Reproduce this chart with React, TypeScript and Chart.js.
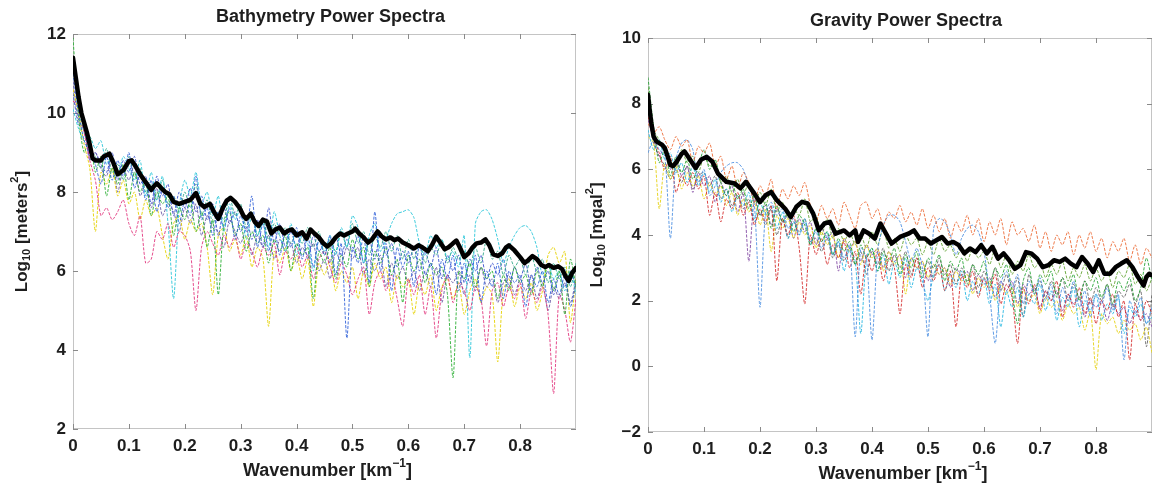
import React, { useEffect, useRef } from "react";
import { Chart, registerables } from "chart.js";

Chart.register(...registerables);

// ---------- shared wavenumber grid for individual spectra (km^-1) ----------
const waveX = [
  0, 0.01, 0.02, 0.03, 0.04, 0.05, 0.06, 0.07, 0.08, 0.09,
  0.1, 0.11, 0.12, 0.13, 0.14, 0.15, 0.16, 0.17, 0.18, 0.19,
  0.2, 0.21, 0.22, 0.23, 0.24, 0.25, 0.26, 0.27, 0.28, 0.29,
  0.3, 0.31, 0.32, 0.33, 0.34, 0.35, 0.36, 0.37, 0.38, 0.39,
  0.4, 0.41, 0.42, 0.43, 0.44, 0.45, 0.46, 0.47, 0.48, 0.49,
  0.5, 0.51, 0.52, 0.53, 0.54, 0.55, 0.56, 0.57, 0.58, 0.59,
  0.6, 0.61, 0.62, 0.63, 0.64, 0.65, 0.66, 0.67, 0.68, 0.69,
  0.7, 0.71, 0.72, 0.73, 0.74, 0.75, 0.76, 0.77, 0.78, 0.79,
  0.8, 0.81, 0.82, 0.83, 0.84, 0.85, 0.86, 0.87, 0.88, 0.89,
  0.9,
];

const xTicks = [0, 0.1, 0.2, 0.3, 0.4, 0.5, 0.6, 0.7, 0.8];
const bathyYTicks = [2, 4, 6, 8, 10, 12];
const gravYTicks = [-2, 0, 2, 4, 6, 8, 10];

// ---------- Bathymetry: mean spectrum (thick black) ----------
const bathyMeanX = [
  0, 0.005, 0.01, 0.015, 0.02, 0.025, 0.03, 0.035, 0.04, 0.05, 0.055, 0.065, 0.072, 0.08, 0.09,
  0.1, 0.105, 0.112, 0.12, 0.13, 0.14, 0.145, 0.15, 0.158, 0.165, 0.172, 0.18, 0.19, 0.2,
  0.21, 0.22, 0.228, 0.235, 0.245, 0.252, 0.26, 0.268, 0.275, 0.282, 0.29, 0.298, 0.305,
  0.31, 0.318, 0.325, 0.332, 0.34, 0.347, 0.355, 0.362, 0.37, 0.378, 0.385, 0.392, 0.4,
  0.41, 0.418, 0.425, 0.432, 0.44, 0.448, 0.455, 0.462, 0.47, 0.478, 0.485, 0.492, 0.5,
  0.505, 0.512, 0.52, 0.528, 0.535, 0.545, 0.552, 0.56, 0.568, 0.575, 0.582, 0.59, 0.6,
  0.61, 0.618, 0.625, 0.635, 0.642, 0.65, 0.658, 0.665, 0.672, 0.68, 0.686, 0.692, 0.7,
  0.708, 0.715, 0.722, 0.73, 0.738, 0.745, 0.752, 0.76, 0.768, 0.775, 0.78, 0.79, 0.8,
  0.808, 0.815, 0.822, 0.83, 0.838, 0.845, 0.852, 0.86, 0.868, 0.875, 0.882, 0.887, 0.893, 0.9,
];
const bathyMeanY = [
  11.4, 10.9, 10.4, 10.0, 9.75, 9.5, 9.2, 8.85, 8.8, 8.8, 8.9, 8.97, 8.75, 8.45, 8.55,
  8.78, 8.8, 8.65, 8.45, 8.25, 8.05, 8.15, 8.22, 8.1, 8.0, 7.95, 7.75, 7.7, 7.75,
  7.8, 7.97, 7.7, 7.62, 7.7, 7.5, 7.32, 7.6, 7.78, 7.85, 7.75, 7.6, 7.4,
  7.32, 7.45, 7.25, 7.14, 7.3, 7.25, 6.95, 7.05, 7.1, 6.95, 7.02, 7.05, 6.9,
  6.98, 6.82, 7.05, 6.95, 6.85, 6.7, 6.62, 6.7, 6.85, 6.95, 6.9, 6.95, 7.0,
  7.07, 6.95, 6.85, 6.72, 6.8, 7.0, 6.88, 6.8, 6.85, 6.78, 6.82, 6.72, 6.65,
  6.57, 6.65, 6.6, 6.5, 6.65, 6.87, 6.7, 6.55, 6.6, 6.7, 6.77, 6.6, 6.35,
  6.45, 6.6, 6.7, 6.72, 6.8, 6.65, 6.42, 6.38, 6.45, 6.6, 6.65, 6.52, 6.35,
  6.2, 6.28, 6.38, 6.3, 6.15, 6.1, 6.15, 6.08, 6.12, 6.05, 5.85, 5.75, 5.95, 6.08,
];

// ---------- Bathymetry: individual profile spectra (on waveX) ----------
const bathyBlue = [
  11.0, 10.0, 9.3, 9.0, 8.7, 8.2, 8.9, 8.3, 8.8, 8.4,
  9.0, 8.1, 8.5, 7.8, 8.3, 7.5, 8.1, 7.6, 7.9, 7.2,
  7.8, 7.4, 8.4, 7.3, 7.6, 6.9, 7.5, 7.1, 7.6, 6.8,
  7.4, 7.0, 7.9, 6.6, 7.2, 6.5, 7.1, 6.4, 7.0, 6.6,
  7.1, 6.3, 6.9, 6.1, 6.8, 6.4, 6.9, 5.9, 6.7, 4.3,
  6.6, 6.2, 6.9, 5.7, 7.5, 6.0, 6.7, 5.5, 6.6, 6.1,
  6.5, 5.6, 6.7, 5.9, 6.2, 5.4, 6.3, 5.8, 6.4, 5.5,
  6.2, 5.7, 6.4, 5.2, 6.0, 5.6, 6.2, 5.3, 6.0, 5.7,
  5.9, 5.1, 5.9, 5.6, 6.0, 5.2, 5.8, 5.4, 5.9, 5.1,
  5.7,
];
const bathyGreen = [
  11.9, 9.9, 9.0, 9.4, 8.5, 8.9, 7.9, 8.6, 8.2, 8.7,
  7.8, 8.5, 8.0, 8.3, 7.4, 8.0, 7.7, 7.9, 6.9, 7.6,
  7.3, 7.8, 7.0, 7.5, 6.6, 7.3, 5.4, 7.2, 7.5, 6.9,
  7.2, 6.5, 7.0, 6.7, 6.9, 6.2, 6.8, 6.5, 6.9, 6.0,
  6.7, 6.4, 6.6, 5.3, 6.5, 6.2, 6.6, 5.8, 6.4, 6.1,
  6.8, 6.3, 6.6, 5.6, 6.5, 6.2, 6.6, 5.9, 6.3, 5.2,
  6.4, 6.0, 6.3, 5.7, 6.2, 5.9, 6.1, 5.4, 3.3, 6.0,
  5.8, 6.2, 5.6, 6.1, 5.8, 6.0, 5.3, 5.9, 5.5, 6.1,
  5.7, 5.9, 5.4, 6.0, 5.6, 6.2, 5.5, 6.0, 4.9, 6.3,
  5.6,
];
const bathyPink = [
  10.3, 10.2, 9.5, 8.8, 8.3, 7.4, 7.6, 7.3, 7.5, 7.8,
  7.2, 6.9, 7.4, 6.2, 6.3, 7.0, 6.8, 7.2, 6.6, 7.0,
  6.9, 6.5, 5.0, 6.6, 7.0, 6.7, 6.4, 6.9, 6.6, 6.9,
  6.3, 6.7, 6.5, 6.1, 6.6, 6.4, 6.7, 5.9, 6.5, 6.3,
  6.6, 6.1, 6.4, 5.8, 6.3, 6.5, 6.1, 5.7, 6.2, 5.9,
  5.4, 5.8, 6.1, 4.9, 5.7, 6.0, 5.5, 5.9, 5.3, 4.6,
  5.8, 5.4, 5.9, 4.9, 5.6, 4.3, 5.5, 5.9, 5.2, 5.7,
  5.5, 5.0, 5.6, 5.3, 4.1, 5.5, 5.7, 5.1, 5.6, 5.3,
  5.7, 4.8, 5.5, 5.2, 5.6, 4.9, 2.9, 5.4, 5.0, 4.2,
  5.3,
];
const bathyCyan = [
  10.1, 9.6, 9.3, 9.4, 9.1, 9.3, 8.7, 8.9, 8.4, 8.9,
  8.6, 8.3, 8.8, 7.9, 8.5, 7.8, 8.4, 7.2, 5.3, 7.6,
  8.3, 7.9, 8.5, 7.7, 8.0, 7.4, 7.9, 7.0, 7.7, 7.3,
  7.6, 6.8, 7.4, 6.9, 7.2, 6.6, 7.5, 6.9, 6.5, 7.2,
  6.4, 6.9, 6.7, 6.0, 6.8, 6.5, 6.9, 6.4, 7.1, 6.6,
  7.4, 7.1, 6.2, 6.9, 7.2, 6.5, 6.8, 7.2, 7.45, 7.5,
  7.55, 7.35, 6.7, 6.4, 6.9, 6.6, 6.8, 6.3, 6.5, 6.1,
  6.9, 3.8, 7.2, 7.5, 7.55, 7.3, 6.8, 6.2, 6.6, 6.9,
  7.1, 7.15, 7.0, 6.6, 5.9, 6.2, 5.8, 6.0, 5.5, 6.0,
  5.4,
];
const bathyYellow = [
  10.6, 10.0, 9.2, 8.6, 7.0, 8.5, 8.2, 8.6, 7.9, 8.3,
  7.7, 8.0, 7.3, 7.8, 7.4, 7.6, 6.9, 6.3, 7.2, 7.4,
  6.8, 7.3, 7.0, 7.2, 6.6, 5.4, 6.9, 7.1, 6.5, 6.8,
  6.4, 6.9, 6.1, 6.6, 6.3, 4.6, 6.5, 6.2, 6.6, 6.0,
  6.4, 5.8, 6.3, 5.1, 6.2, 5.9, 6.3, 5.5, 6.0, 5.7,
  6.1, 5.3, 6.0, 5.6, 6.2, 5.8, 6.1, 5.2, 5.9, 5.6,
  5.8, 4.9, 5.7, 5.4, 5.9, 5.0, 5.6, 5.8, 5.3, 5.7,
  4.9, 5.5, 5.8, 5.2, 5.6, 5.4, 3.7, 5.5, 5.8, 5.1,
  5.6, 5.3, 5.7, 5.0, 5.5, 6.4, 6.6, 6.2, 6.5, 4.7,
  5.8,
];
const bathyPurple = [
  10.8, 9.8, 9.6, 8.9, 9.0, 8.6, 8.4, 8.9, 8.0, 8.6,
  8.3, 8.7, 7.9, 8.2, 7.6, 8.1, 7.4, 7.7, 7.5, 7.0,
  7.6, 7.2, 7.7, 6.9, 7.4, 7.1, 7.0, 6.6, 7.3, 7.0,
  6.7, 7.1, 6.4, 6.9, 6.6, 6.9, 6.3, 6.8, 6.5, 6.7,
  6.2, 6.6, 6.4, 6.7, 6.0, 6.3, 5.8, 6.5, 6.2, 6.6,
  6.3, 6.6, 5.9, 6.3, 6.0, 6.4, 5.6, 6.2, 5.8, 6.1,
  5.7, 6.0, 5.5, 6.0, 5.6, 6.1, 5.2, 5.9, 5.7, 6.0,
  5.4, 5.9, 5.5, 6.1, 5.6, 5.8, 5.2, 5.7, 5.9, 5.4,
  5.8, 5.5, 5.9, 5.3, 5.7, 5.0, 5.6, 5.3, 5.7, 5.2,
  5.8,
];
const bathyTeal = [
  11.2, 10.1, 9.5, 9.1, 8.9, 8.6, 9.1, 8.5, 8.7, 8.3,
  8.9, 8.4, 8.6, 8.0, 8.2, 7.8, 8.3, 7.7, 7.9, 7.5,
  8.0, 7.6, 8.2, 7.4, 7.8, 7.2, 7.5, 7.3, 7.9, 7.4,
  7.7, 7.1, 7.5, 6.9, 7.3, 6.8, 7.2, 6.9, 7.1, 6.7,
  7.0, 6.7, 7.1, 6.6, 7.0, 6.4, 6.8, 6.5, 7.0, 6.6,
  7.2, 6.7, 7.0, 6.4, 6.9, 6.6, 7.0, 6.5, 6.9, 6.3,
  6.8, 6.3, 6.7, 6.2, 6.6, 6.4, 6.8, 6.2, 6.6, 6.3,
  6.5, 6.1, 6.6, 6.2, 6.8, 6.3, 6.5, 5.9, 6.4, 6.1,
  6.3, 5.9, 6.4, 6.0, 6.3, 5.7, 6.2, 5.8, 6.1, 5.6,
  6.2,
];
const bathyNavy = [
  10.5, 9.7, 9.6, 8.8, 9.0, 8.7, 8.5, 9.0, 8.3, 8.8,
  8.5, 8.9, 8.2, 8.4, 7.7, 8.4, 7.9, 8.2, 7.4, 8.0,
  7.6, 8.1, 7.5, 7.9, 7.3, 7.7, 6.9, 7.6, 7.2, 7.5,
  7.0, 7.4, 6.8, 7.3, 6.6, 7.6, 6.7, 7.2, 6.6, 7.0,
  6.6, 7.0, 6.3, 6.9, 6.5, 6.7, 6.2, 6.9, 6.4, 6.8,
  6.5, 6.9, 6.2, 6.8, 6.3, 7.0, 6.4, 6.7, 6.1, 6.5,
  6.2, 6.6, 6.0, 6.5, 6.1, 6.6, 5.8, 6.4, 6.0, 6.4,
  5.7, 6.3, 6.0, 6.4, 5.8, 6.2, 5.9, 6.3, 5.6, 6.1,
  5.8, 6.2, 5.5, 6.1, 5.7, 6.0, 5.4, 5.9, 5.6, 6.0,
  5.6,
];

// ---------- Gravity: mean spectrum (thick black) ----------
const gravMeanX = [
  0, 0.003, 0.006, 0.01, 0.015, 0.02, 0.025, 0.03, 0.035, 0.04, 0.045, 0.05, 0.06, 0.065,
  0.075, 0.085, 0.095, 0.105, 0.115, 0.125, 0.14, 0.155, 0.165, 0.175, 0.19, 0.2, 0.21,
  0.22, 0.23, 0.245, 0.255, 0.265, 0.275, 0.285, 0.295, 0.305, 0.315, 0.325, 0.335, 0.35,
  0.36, 0.37, 0.375, 0.385, 0.395, 0.405, 0.415, 0.425, 0.435, 0.45, 0.465, 0.475, 0.485,
  0.495, 0.505, 0.515, 0.525, 0.535, 0.545, 0.555, 0.565, 0.575, 0.585, 0.595, 0.605,
  0.615, 0.625, 0.635, 0.645, 0.655, 0.665, 0.675, 0.685, 0.695, 0.705, 0.715, 0.725,
  0.735, 0.745, 0.755, 0.765, 0.775, 0.785, 0.795, 0.805, 0.815, 0.825, 0.835, 0.845,
  0.855, 0.865, 0.875, 0.885, 0.89, 0.895, 0.9,
];
const gravMeanY = [
  8.27, 7.8, 7.4, 7.0, 6.85, 6.8, 6.75, 6.65, 6.4, 6.13, 6.1, 6.2, 6.47, 6.55,
  6.3, 6.04, 6.3, 6.38, 6.23, 5.87, 5.62, 5.57, 5.42, 5.62, 5.26, 5.0, 5.21,
  5.31, 5.06, 4.8, 4.55, 4.86, 5.01, 4.96, 4.65, 4.14, 4.35, 4.4, 4.04, 4.14,
  3.99, 4.14, 3.79, 4.14, 4.04, 3.89, 4.35, 4.04, 3.74, 3.94, 4.04, 4.14, 3.89,
  3.89, 3.74, 3.84, 3.94, 3.74, 3.79, 3.69, 3.44, 3.59, 3.48, 3.69, 3.44,
  3.64, 3.28, 3.44, 3.23, 2.97, 3.08, 3.48, 3.43, 3.28, 3.02, 3.08, 3.23,
  3.18, 3.28, 3.13, 3.02, 3.33, 3.13, 2.87, 3.23, 2.82, 2.82, 3.02, 3.13,
  3.23, 3.02, 2.72, 2.46, 2.72, 2.82, 2.77,
];

// ---------- Gravity: individual profile spectra (on waveX) ----------
const gravOrange = [
  7.4, 7.1, 7.3, 6.9, 6.6, 7.0, 6.7, 6.9, 6.2, 6.7,
  6.5, 6.8, 6.1, 6.4, 5.7, 6.1, 5.4, 5.9, 5.6, 5.0,
  5.5, 5.2, 5.7, 4.8, 5.4, 5.1, 5.5, 5.2, 5.6, 4.9,
  4.4, 4.9, 4.5, 4.8, 4.3, 5.0, 4.6, 4.2, 4.9, 5.0,
  4.5, 4.8, 4.3, 4.7, 4.5, 4.9, 4.4, 4.7, 4.3, 4.8,
  4.2, 4.6, 4.1, 4.5, 3.9, 4.4, 4.1, 4.6, 4.0, 4.5,
  3.8, 4.4, 4.0, 4.5, 3.7, 4.4, 4.0, 4.2, 3.8, 4.3,
  3.6, 4.1, 3.5, 4.0, 3.7, 4.1, 3.4, 4.0, 3.6, 4.1,
  3.5, 3.9, 3.3, 3.8, 3.5, 3.9, 3.2, 3.7, 3.1, 3.6,
  3.3,
];
const gravBlue = [
  6.5, 6.9, 6.6, 6.4, 3.9, 6.3, 6.8, 6.9, 6.6, 5.6,
  6.0, 5.2, 5.5, 5.9, 6.1, 6.2, 6.2, 6.0, 5.5, 4.9,
  1.8, 4.7, 5.0, 4.6, 4.8, 4.2, 4.5, 4.0, 4.4, 3.8,
  4.1, 3.6, 4.0, 3.4, 3.8, 3.3, 3.7, 0.9, 3.6, 3.3,
  0.8, 3.5, 4.3, 4.6, 4.6, 4.4, 3.8, 3.2, 3.6, 3.0,
  0.9, 4.2, 4.5, 4.4, 4.0, 3.4, 3.9, 4.2, 4.3, 4.1,
  3.5, 2.2, 0.7, 2.5, 2.9, 2.4, 2.8, 1.9, 2.6, 2.2,
  2.7, 2.0, 2.5, 1.6, 2.4, 2.0, 2.6, 1.8, 2.3, 1.5,
  2.2, 1.9, 2.4, 1.7, 2.2, 0.2, 2.0, 1.6, 2.1, 1.3,
  1.8,
];
const gravGreen = [
  8.8, 7.3, 6.2, 6.6, 5.8, 6.4, 5.9, 6.3, 5.7, 6.1,
  6.6, 6.0, 6.3, 5.6, 5.2, 5.6, 5.1, 5.4, 4.8, 5.2,
  4.6, 5.0, 4.2, 4.9, 4.4, 4.7, 4.1, 4.6, 4.3, 3.7,
  4.2, 3.8, 4.1, 3.4, 3.9, 3.5, 3.8, 3.1, 3.7, 3.3,
  3.6, 2.9, 3.5, 3.2, 3.6, 2.8, 3.4, 3.0, 3.5, 2.7,
  3.3, 3.0, 3.4, 2.6, 3.2, 2.9, 3.3, 2.5, 3.1, 2.8,
  3.2, 2.4, 3.0, 2.7, 3.1, 2.3, 1.3, 2.6, 3.0, 2.2,
  2.8, 2.5, 2.9, 2.1, 2.7, 2.4, 2.8, 2.0, 2.6, 2.3,
  2.7, 2.1, 2.5, 1.9, 2.6, 2.3, 2.7, 2.0, 2.4, 3.3,
  2.6,
];
const gravRed = [
  7.6, 7.0, 6.5, 6.0, 6.4, 5.3, 5.8, 5.5, 5.9, 5.4,
  5.8, 4.6, 5.3, 4.4, 5.1, 4.8, 5.3, 4.6, 5.0, 4.3,
  4.8, 4.4, 4.9, 2.6, 4.5, 4.0, 4.6, 3.6, 1.9, 4.0,
  3.4, 3.9, 3.1, 3.7, 3.3, 3.8, 3.0, 3.5, 2.2, 3.4,
  2.9, 3.5, 2.6, 3.3, 3.0, 1.6, 3.1, 2.7, 3.3, 2.4,
  3.0, 2.6, 3.1, 2.3, 2.9, 1.2, 2.8, 2.4, 2.9, 2.1,
  2.7, 2.3, 2.8, 1.9, 2.5, 2.1, 0.7, 2.4, 1.9, 2.5,
  1.7, 2.3, 2.0, 2.6, 1.5, 2.2, 1.8, 2.4, 1.6, 2.1,
  1.3, 2.0, 1.7, 2.2, 1.5, 2.0, 0.2, 1.9, 1.4, 2.0,
  1.6,
];
const gravCyan = [
  7.2, 6.6, 6.9, 6.3, 6.5, 5.9, 6.2, 5.6, 6.1, 5.5,
  5.9, 5.3, 5.7, 5.0, 5.4, 4.7, 5.2, 4.9, 5.3, 4.5,
  5.0, 4.6, 4.9, 4.2, 4.7, 3.9, 4.4, 4.0, 4.5, 3.7,
  4.2, 3.8, 4.1, 3.4, 3.8, 2.9, 3.6, 3.2, 1.0, 3.3,
  3.6, 2.9, 3.4, 2.5, 3.2, 2.7, 3.3, 2.4, 3.0, 2.6,
  2.0, 2.8, 3.1, 2.3, 2.8, 2.4, 2.9, 2.0, 2.6, 2.2,
  2.7, 1.9, 2.5, 1.2, 2.3, 1.8, 2.4, 1.5, 2.2, 1.9,
  2.5, 1.7, 2.3, 1.4, 2.1, 1.8, 2.4, 1.2, 2.0, 1.7,
  2.2, 1.4, 1.9, 1.6, 2.1, 1.0, 1.8, 1.5, 1.9, 1.3,
  1.5,
];
const gravYellow = [
  7.0, 6.8, 4.8, 6.2, 5.7, 6.1, 5.4, 5.9, 5.5, 5.8,
  5.1, 5.6, 5.2, 5.5, 4.9, 5.3, 4.6, 5.1, 4.7, 5.0,
  4.3, 4.8, 3.5, 4.6, 4.2, 4.5, 3.9, 4.4, 4.0, 4.3,
  3.6, 4.1, 3.7, 4.0, 3.3, 3.9, 3.5, 3.8, 3.1, 3.7,
  3.3, 3.6, 2.9, 3.5, 3.1, 3.4, 2.2, 3.3, 3.0, 3.2,
  2.7, 3.1, 2.8, 3.0, 2.5, 2.9, 2.6, 2.8, 2.2, 2.7,
  2.4, 2.6, 2.0, 2.5, 2.2, 2.4, 1.8, 2.3, 2.0, 2.2,
  1.6, 2.1, 1.8, 2.0, 1.4, 1.9, 1.6, 1.8, 1.1, 1.7,
  -0.1, 1.6, 1.3, 1.5, 1.0, 1.4, 1.1, 1.3, 0.8, 1.2,
  0.4,
];
const gravPurple = [
  7.5, 6.9, 6.4, 6.7, 6.0, 6.3, 5.8, 6.1, 5.3, 5.9,
  5.5, 5.8, 5.0, 5.6, 5.2, 5.5, 4.7, 5.3, 3.2, 5.1,
  4.6, 4.9, 4.3, 4.8, 4.4, 4.6, 3.9, 4.5, 4.1, 4.4,
  3.7, 4.2, 3.9, 4.1, 2.9, 3.9, 3.6, 3.8, 3.2, 3.7,
  3.4, 3.6, 3.0, 3.5, 3.2, 3.4, 2.7, 3.3, 3.0, 3.2,
  2.6, 3.1, 2.8, 3.0, 2.4, 3.0, 2.7, 2.9, 2.3, 2.8,
  2.5, 2.7, 2.1, 2.6, 2.3, 2.6, 1.9, 2.5, 2.2, 2.4,
  1.8, 2.3, 2.0, 2.3, 1.7, 2.2, 1.9, 2.1, 1.5, 2.0,
  1.8, 2.0, 1.4, 1.9, 1.6, 1.8, 1.3, 1.7, 1.4, 1.6,
  1.2,
];
const gravOlive = [
  8.5, 7.2, 6.9, 6.5, 6.3, 6.0, 6.6, 6.2, 6.4, 5.9,
  6.4, 6.1, 6.2, 5.6, 5.8, 5.3, 5.7, 5.2, 5.6, 5.0,
  5.3, 4.9, 5.4, 4.7, 5.0, 4.5, 4.8, 4.6, 5.1, 4.4,
  4.6, 4.0, 4.5, 3.9, 4.2, 3.8, 4.1, 3.7, 4.0, 3.6,
  4.1, 3.7, 4.2, 3.6, 3.9, 3.5, 4.0, 3.7, 3.9, 3.4,
  3.8, 3.4, 3.9, 3.5, 3.7, 3.3, 3.6, 3.2, 3.6, 3.3,
  3.5, 3.1, 3.6, 3.0, 3.4, 2.8, 3.2, 2.9, 3.4, 3.0,
  3.2, 2.7, 3.1, 2.8, 3.2, 2.6, 3.0, 2.7, 3.1, 2.6,
  3.0, 2.6, 2.9, 2.4, 2.9, 2.7, 3.1, 2.5, 2.8, 2.3,
  2.7,
];
const gravDark = [
  7.8, 6.8, 6.4, 6.1, 5.7, 6.0, 5.6, 6.1, 5.4, 5.8,
  5.9, 5.5, 5.8, 5.1, 5.4, 4.9, 5.2, 4.8, 5.1, 4.4,
  4.7, 4.3, 4.8, 4.0, 4.5, 3.9, 4.4, 4.1, 4.5, 3.8,
  3.9, 3.5, 3.9, 3.3, 3.7, 3.2, 3.6, 3.1, 3.5, 2.8,
  3.5, 3.1, 3.6, 2.9, 3.4, 3.0, 3.5, 2.8, 3.3, 2.9,
  3.2, 2.7, 3.3, 2.8, 3.1, 2.5, 3.0, 2.6, 3.1, 2.4,
  2.9, 2.5, 3.0, 2.3, 2.8, 2.2, 2.7, 1.5, 2.8, 2.3,
  2.6, 2.1, 2.6, 2.2, 2.7, 2.0, 2.5, 2.1, 2.6, 1.9,
  2.4, 2.0, 2.5, 1.8, 2.3, 2.1, 2.5, 1.9, 2.3, 0.6,
  2.2,
];

// ---------- text ----------
const FONT = '"Liberation Sans", Arial, Helvetica, sans-serif';
const TEXT_COLOR = "#1e1e1e";

type Seg = { t: string; size: number; dy: number };

function drawRich(ctx: CanvasRenderingContext2D, segs: Seg[], cx: number, cy: number) {
  let total = 0;
  const widths = segs.map((s) => {
    ctx.font = `bold ${s.size}px ${FONT}`;
    const w = ctx.measureText(s.t).width;
    total += w;
    return w;
  });
  let x = cx - total / 2;
  ctx.textAlign = "left";
  ctx.textBaseline = "middle";
  segs.forEach((s, i) => {
    ctx.font = `bold ${s.size}px ${FONT}`;
    ctx.fillText(s.t, x, cy + s.dy);
    x += widths[i];
  });
}

function makeDecor(title: string, unit: string) {
  return {
    id: "decor-" + unit,
    beforeDatasetsDraw(chart: any) {
      const { ctx, chartArea: a, scales } = chart;
      ctx.save();
      ctx.strokeStyle = "#c4c4c4";
      ctx.lineWidth = 1;
      ctx.strokeRect(Math.round(a.left) + 0.5, Math.round(a.top) + 0.5, Math.round(a.right - a.left) - 1, Math.round(a.bottom - a.top) - 1);
      ctx.strokeStyle = "#8a8a8a";
      ctx.beginPath();
      scales.x.ticks.forEach((t: any) => {
        const px = Math.round(scales.x.getPixelForValue(t.value)) + 0.5;
        ctx.moveTo(px, a.bottom);
        ctx.lineTo(px, a.bottom - 5);
        ctx.moveTo(px, a.top);
        ctx.lineTo(px, a.top + 5);
      });
      scales.y.ticks.forEach((t: any) => {
        const py = Math.round(scales.y.getPixelForValue(t.value)) + 0.5;
        ctx.moveTo(a.left, py);
        ctx.lineTo(a.left + 5, py);
        ctx.moveTo(a.right, py);
        ctx.lineTo(a.right - 5, py);
      });
      ctx.stroke();
      ctx.restore();
    },
    afterDraw(chart: any) {
      const { ctx, chartArea: a } = chart;
      ctx.save();
      ctx.fillStyle = TEXT_COLOR;
      const cx = (a.left + a.right) / 2;
      drawRich(ctx, [{ t: title, size: 18, dy: 0 }], cx + 6, a.top - 17);
      drawRich(
        ctx,
        [
          { t: "Wavenumber [km", size: 18, dy: 0 },
          { t: "\u22121", size: 12, dy: -7 },
          { t: "]", size: 18, dy: 0 },
        ],
        cx + 3,
        a.bottom + 42
      );
      ctx.translate(a.left - 51, (a.top + a.bottom) / 2);
      ctx.rotate(-Math.PI / 2);
      drawRich(
        ctx,
        [
          { t: "Log", size: 17, dy: 0 },
          { t: "10", size: 11, dy: 5 },
          { t: " [" + unit, size: 17, dy: 0 },
          { t: "2", size: 11, dy: -7 },
          { t: "]", size: 17, dy: 0 },
        ],
        0,
        0
      );
      ctx.restore();
    },
  };
}

type Spec = { color: string; values: number[] };

type PanelCfg = {
  title: string;
  unit: string;
  meanX: number[];
  meanY: number[];
  spectra: Spec[];
  yTicks: number[];
  width: number;
  left: number;
  padTop: number;
  padRight: number;
  yAxisWidth: number;
  xAxisHeight: number;
};

function Panel({ cfg }: { cfg: PanelCfg }) {
  const ref = useRef<HTMLCanvasElement>(null);
  useEffect(() => {
    const canvas = ref.current;
    if (!canvas) return;
    const datasets: any[] = [
      {
        data: cfg.meanX.map((x, i) => ({ x, y: cfg.meanY[i] })),
        borderColor: "#000000",
        borderWidth: 4.5,
        pointRadius: 0,
        borderJoinStyle: "round",
        borderCapStyle: "round",
        tension: 0,
      },
      ...cfg.spectra.map((s) => ({
        data: waveX.map((x, i) => ({ x, y: s.values[i] })),
        borderColor: s.color,
        borderWidth: 1,
        borderDash: [3, 1.5],
        pointRadius: 0,
        tension: 0.25,
      })),
    ];
    const yMin = cfg.yTicks[0];
    const yMax = cfg.yTicks[cfg.yTicks.length - 1];
    const chart = new Chart(canvas, {
      type: "line",
      data: { datasets },
      options: {
        animation: false,
        responsive: false,
        devicePixelRatio: 1,
        events: [],
        layout: { padding: { top: cfg.padTop, right: cfg.padRight, left: 0, bottom: 0 } },
        plugins: { legend: { display: false }, tooltip: { enabled: false }, title: { display: false } },
        scales: {
          x: {
            type: "linear",
            min: 0,
            max: 0.9,
            grid: { display: false, drawTicks: false },
            border: { display: false },
            afterBuildTicks: (scale: any) => {
              scale.ticks = xTicks.map((v) => ({ value: v }));
            },
            afterFit: (scale: any) => {
              scale.height = cfg.xAxisHeight;
            },
            ticks: {
              padding: 7,
              maxRotation: 0,
              autoSkip: false,
              color: TEXT_COLOR,
              font: { family: FONT, size: 17, weight: "bold" },
              callback: (v: any) => (Number(v) === 0 ? "0" : Number(v).toFixed(1)),
            },
          },
          y: {
            type: "linear",
            min: yMin,
            max: yMax,
            grid: { display: false, drawTicks: false },
            border: { display: false },
            afterBuildTicks: (scale: any) => {
              scale.ticks = cfg.yTicks.map((v) => ({ value: v }));
            },
            afterFit: (scale: any) => {
              scale.width = cfg.yAxisWidth;
            },
            ticks: {
              padding: 7,
              color: TEXT_COLOR,
              font: { family: FONT, size: 17, weight: "bold" },
              callback: (v: any) => (Number(v) < 0 ? "\u2212" + Math.abs(Number(v)) : String(v)),
            },
          },
        },
      } as any,
      plugins: [makeDecor(cfg.title, cfg.unit)],
    });
    return () => chart.destroy();
  }, [cfg]);
  return (
    <canvas
      ref={ref}
      width={cfg.width}
      height={487}
      style={{ position: "absolute", left: cfg.left, top: 0, width: cfg.width, height: 487 }}
    />
  );
}

const bathyCfg: PanelCfg = {
  title: "Bathymetry Power Spectra",
  unit: "meters",
  meanX: bathyMeanX,
  meanY: bathyMeanY,
  spectra: [
    { color: "rgba(40,90,215,0.85)", values: bathyBlue },
    { color: "rgba(30,170,40,0.85)", values: bathyGreen },
    { color: "rgba(225,45,120,0.85)", values: bathyPink },
    { color: "rgba(30,195,215,0.85)", values: bathyCyan },
    { color: "rgba(230,210,0,0.9)", values: bathyYellow },
    { color: "rgba(95,80,160,0.85)", values: bathyPurple },
    { color: "rgba(40,165,130,0.85)", values: bathyTeal },
    { color: "rgba(35,60,200,0.8)", values: bathyNavy },
  ],
  yTicks: bathyYTicks,
  width: 580,
  left: 0,
  padTop: 34,
  padRight: 4,
  yAxisWidth: 73,
  xAxisHeight: 58,
};

const gravCfg: PanelCfg = {
  title: "Gravity Power Spectra",
  unit: "mgal",
  meanX: gravMeanX,
  meanY: gravMeanY,
  spectra: [
    { color: "rgba(235,100,45,0.85)", values: gravOrange },
    { color: "rgba(70,140,225,0.85)", values: gravBlue },
    { color: "rgba(30,160,45,0.85)", values: gravGreen },
    { color: "rgba(210,35,35,0.85)", values: gravRed },
    { color: "rgba(30,180,225,0.85)", values: gravCyan },
    { color: "rgba(230,210,20,0.9)", values: gravYellow },
    { color: "rgba(125,65,160,0.85)", values: gravPurple },
    { color: "rgba(90,160,40,0.85)", values: gravOlive },
    { color: "rgba(60,60,60,0.7)", values: gravDark },
  ],
  yTicks: gravYTicks,
  width: 574,
  left: 580,
  padTop: 38,
  padRight: 2,
  yAxisWidth: 68,
  xAxisHeight: 55,
};

export default function App() {
  return (
    <div style={{ position: "absolute", left: 0, top: 0, width: 1154, height: 487, background: "#ffffff", overflow: "hidden" }}>
      <Panel cfg={bathyCfg} />
      <Panel cfg={gravCfg} />
    </div>
  );
}
